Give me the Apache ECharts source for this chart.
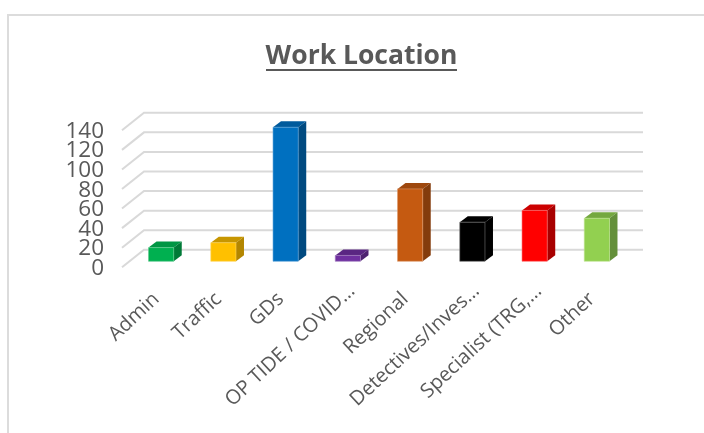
<!DOCTYPE html>
<html><head><meta charset="utf-8">
<style>html,body{margin:0;padding:0;background:#fff}#c{width:704px;height:433px}</style>
<script src="https://cdn.jsdelivr.net/npm/echarts@6/dist/echarts.min.js"></script>
</head><body><div id="c"></div>
<script>
const categories = ["Admin","Traffic","GDs","OP TIDE / COVID…","Regional","Detectives/Inves…","Specialist (TRG,…","Other"];
const values = [14,19,137,6,74,40,52,44];
const gridTicks = [0,20,40,60,80,100,120,140];
const endTicks = [0,140];
const frontColors = ["#00B050","#FFC000","#0070C0","#7030A0","#C55A11","#000000","#FF0000","#92D050"];
const topColors = ["#009644","#C79600","#005A9C","#5A2682","#9E480E","#000000","#CC0000","#74A83F"];
const sideColors = ["#007A37","#B38600","#004A80","#4E2270","#843C0C","#000000","#A80000","#64903A"];
const edgeColors = ["#5FCB8F","#FFD766","#5FA5D8","#A37FC0","#DD9A6C","#6E6E6E","#FF7070","#BDE38F"];

const DX = 8, DY = 6;
const labelAxis = ticks => ({type:'value',gridIndex:1,position:'left',min:0,max:140,interval:20,
  axisLine:{show:false},axisTick:{show:false},splitLine:{show:false},
  axisLabel:{margin:30,customValues:ticks,hideOverlap:false,color:'#595959',fontFamily:'Open Sans',fontSize:22.5}});
const chart = echarts.init(document.getElementById('c'), null, {renderer:'canvas'});
chart.setOption({
  animation:false,
  backgroundColor:'#fff',
  graphic:[
    {type:'text',x:361.5,y:56.5,style:{text:'Work Location',align:'center',verticalAlign:'middle',
      font:'bold 26.5px "Open Sans"',fill:'#595959'},silent:true},
    {type:'rect',shape:{x:266,y:69,width:191,height:2},style:{fill:'#595959'},silent:true},
    {type:'polyline',shape:{points:[[8,433],[8,15],[704,15]]},style:{stroke:'#dcdcdc',lineWidth:2,fill:null},silent:true}
  ],
  grid:[
    {left:130,width:498,top:124.3,height:137},
    {left:134,width:498,top:131.5,height:137}
  ],
  xAxis:[
    {type:'category',data:categories,gridIndex:0,axisLine:{show:false},axisTick:{show:false},axisLabel:{show:false}},
    {type:'category',gridIndex:1,
     data:categories.map(c=>c.includes('…')?c:{value:c,textStyle:{padding:[0,12,0,0]}}),
     axisLine:{show:false},axisTick:{show:false},
     axisLabel:{interval:0,rotate:43,margin:19.5,color:'#595959',fontFamily:'Open Sans',fontSize:20}}
  ],
  yAxis:[
    {type:'value',gridIndex:0,min:0,max:140,interval:20,axisLine:{show:false},axisTick:{show:false},splitLine:{show:false},axisLabel:{show:false}},
    labelAxis(gridTicks),
    labelAxis(endTicks)
  ],
  series:[
    {type:'custom',coordinateSystem:'cartesian2d',xAxisIndex:0,yAxisIndex:0,z:1,silent:true,
     data:gridTicks.map(v=>[0,v]),
     renderItem(params,api){
       const p=api.coord([0,api.value(1)]);
       const y=p[1], x0=params.coordSys.x, x1=x0+params.coordSys.width;
       return {type:'polyline',shape:{points:[[x0-DX,y+DY],[x0+14,y-11.5],[x1+15,y-11.5]]},
         style:{stroke:'#d9d9d9',lineWidth:2,fill:null}};
     }},
    {type:'custom',coordinateSystem:'cartesian2d',xAxisIndex:0,yAxisIndex:0,z:2,silent:true,
     data:values.map((v,i)=>[i,v]),
     renderItem(params,api){
       const i=params.dataIndex;
       const top=api.coord([i,api.value(1)]), base=api.coord([i,0]);
       const w=api.size([1,0])[0]*0.405;
       const l=top[0]-w/2, r=top[0]+w/2, t=top[1], b=base[1];
       return {type:'group',children:[
         {type:'polygon',shape:{points:[[l,t],[r,t],[r+DX,t-DY],[l+DX,t-DY]]},style:{fill:topColors[i]}},
         {type:'polygon',shape:{points:[[r,t],[r+DX,t-DY],[r+DX,b-DY],[r,b]]},style:{fill:sideColors[i]}},
         {type:'rect',shape:{x:l,y:t,width:w,height:b-t},style:{fill:frontColors[i],stroke:edgeColors[i],lineWidth:0.6}}
       ]};
     }}
  ]
});
</script></body></html>
